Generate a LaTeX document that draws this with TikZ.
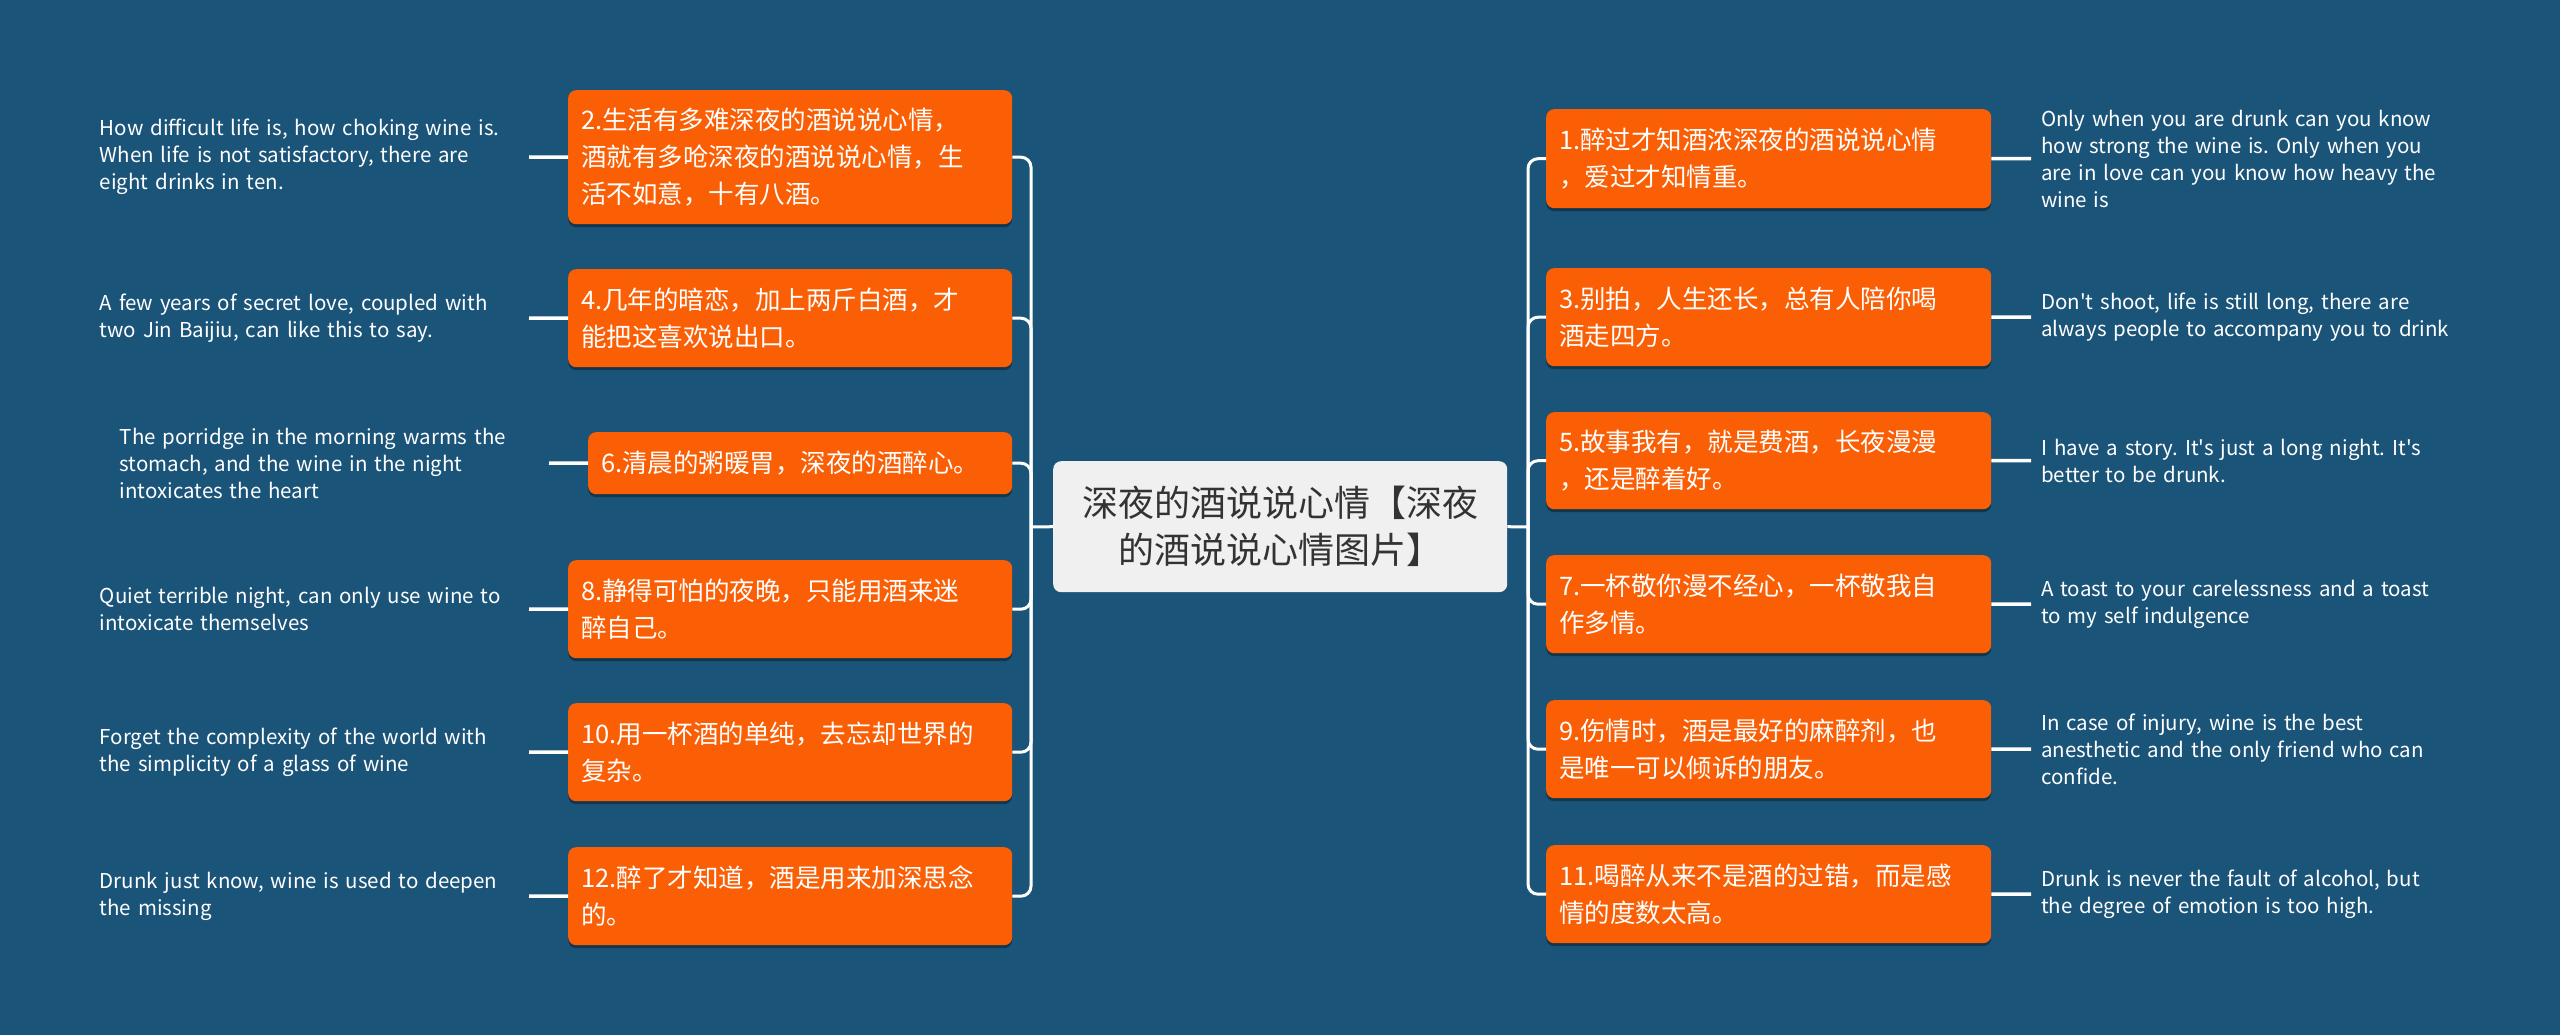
\documentclass[tikz,border=0pt]{standalone}
\usepackage{fontspec}
\setmainfont{Noto Sans CJK SC}
\newfontfamily\plainfont{Noto Sans CJK SC}
\frenchspacing
\usetikzlibrary{shadows}
\definecolor{bgc}{HTML}{1B5479}
\definecolor{orangec}{HTML}{FA5F05}
\definecolor{centerc}{HTML}{F0F0F0}
\definecolor{ctext}{HTML}{333333}
\begin{document}
\begin{tikzpicture}[x=1pt,y=-1pt,
  orangebox/.style={fill=orangec, rounded corners=8pt, text=white,
    font=\plainfont\frenchspacing\fontsize{25.5}{37}\selectfont, align=left, inner xsep=13pt, inner ysep=0pt,
    anchor=north west, text width=418pt,
    drop shadow={shadow xshift=0pt, shadow yshift=-3pt, opacity=0.35, fill=black}},
  ltext/.style={text=white, font=\plainfont\frenchspacing\fontsize{20.5}{27}\selectfont, align=left,
    text width=429pt, inner sep=0pt, anchor=east},
  rtext/.style={text=white, font=\plainfont\frenchspacing\fontsize{20.5}{27}\selectfont, align=left,
    text width=440pt, inner xsep=10pt, inner ysep=0pt, anchor=west},
  conn/.style={draw=white, line width=3pt, rounded corners=10pt},
  tconn/.style={draw=white, line width=3.5pt}]
\fill[bgc] (0,0) rectangle (2560,1035);
\useasboundingbox (0,0) rectangle (2560,1035);

% center
\node[fill=centerc, rounded corners=8pt, text=ctext, font=\plainfont\fontsize{36}{47}\selectfont,
  align=center, anchor=north west, minimum width=454pt, minimum height=131pt, inner sep=0pt]
  (c) at (1053,461) {深夜的酒说说心情【深夜\\的酒说说心情图片】};

% left orange nodes
\node[orangebox, minimum height=134pt] (n2) at (568,90) {2.生活有多难深夜的酒说说心情，\\酒就有多呛深夜的酒说说心情，生\\活不如意，十有八酒。};
\node[orangebox, minimum height=98pt] (n4) at (568,269) {4.几年的暗恋，加上两斤白酒，才\\能把这喜欢说出口。};
\node[orangebox, minimum height=62pt, text width=398pt] (n6) at (588,432) {6.清晨的粥暖胃，深夜的酒醉心。};
\node[orangebox, minimum height=98pt] (n8) at (568,560) {8.静得可怕的夜晚，只能用酒来迷\\醉自己。};
\node[orangebox, minimum height=98pt] (n10) at (568,703) {10.用一杯酒的单纯，去忘却世界的\\复杂。};
\node[orangebox, minimum height=98pt] (n12) at (568,847) {12.醉了才知道，酒是用来加深思念\\的。};

% right orange nodes
\node[orangebox, minimum height=99pt, text width=419pt] (n1) at (1546,109) {1.醉过才知酒浓深夜的酒说说心情\\，爱过才知情重。};
\node[orangebox, minimum height=98pt, text width=419pt] (n3) at (1546,268) {3.别拍，人生还长，总有人陪你喝\\酒走四方。};
\node[orangebox, minimum height=97pt, text width=419pt] (n5) at (1546,412) {5.故事我有，就是费酒，长夜漫漫\\，还是醉着好。};
\node[orangebox, minimum height=98pt, text width=419pt] (n7) at (1546,555) {7.一杯敬你漫不经心，一杯敬我自\\作多情。};
\node[orangebox, minimum height=98pt, text width=419pt] (n9) at (1546,700) {9.伤情时，酒是最好的麻醉剂，也\\是唯一可以倾诉的朋友。};
\node[orangebox, minimum height=98pt, text width=419pt] (n11) at (1546,845) {11.喝醉从来不是酒的过错，而是感\\情的度数太高。};

% left texts
\node[ltext] (t2) at (529,157) {How difficult life is, how choking wine is.\\When life is not satisfactory, there are\\eight drinks in ten.};
\node[ltext] (t4) at (529,318) {A few years of secret love, coupled with\\two Jin Baijiu, can like this to say.};
\node[ltext] (t6) at (549,463) {The porridge in the morning warms the\\stomach, and the wine in the night\\intoxicates the heart};
\node[ltext] (t8) at (529,609) {Quiet terrible night, can only use wine to\\intoxicate themselves};
\node[ltext] (t10) at (529,752) {Forget the complexity of the world with\\the simplicity of a glass of wine};
\node[ltext] (t12) at (529,896) {Drunk just know, wine is used to deepen\\the missing};

% right texts
\node[rtext] (t1) at (2031,158.5) {Only when you are drunk can you know\\how strong the wine is. Only when you\\are in love can you know how heavy the\\wine is};
\node[rtext] (t3) at (2031,317) {Don't shoot, life is still long, there are\\always people to accompany you to drink};
\node[rtext] (t5) at (2031,460.5) {I have a story. It's just a long night. It's\\better to be drunk.};
\node[rtext] (t7) at (2031,604) {A toast to your carelessness and a toast\\to my self indulgence};
\node[rtext] (t9) at (2031,749) {In case of injury, wine is the best\\anesthetic and the only friend who can\\confide.};
\node[rtext] (t11) at (2031,894) {Drunk is never the fault of alcohol, but\\the degree of emotion is too high.};

% junctions
\coordinate (LJ) at (1031,527);
\coordinate (RJ) at (1528,527);
\draw[conn] (c.west) -- (LJ);
\draw[conn] (c.east) -- (RJ);
\foreach \n in {n2,n4,n6,n8,n10,n12} { \draw[conn] (LJ) |- (\n.east); }
\foreach \n in {n1,n3,n5,n7,n9,n11} { \draw[conn] (RJ) |- (\n.west); }

% text connectors
\foreach \t/\n in {t2/n2,t4/n4,t6/n6,t8/n8,t10/n10,t12/n12} { \draw[tconn] (\t.east) -- (\n.west); }
\foreach \t/\n in {t1/n1,t3/n3,t5/n5,t7/n7,t9/n9,t11/n11} { \draw[tconn] (\n.east) -- (\t.west); }
\end{tikzpicture}
\end{document}
